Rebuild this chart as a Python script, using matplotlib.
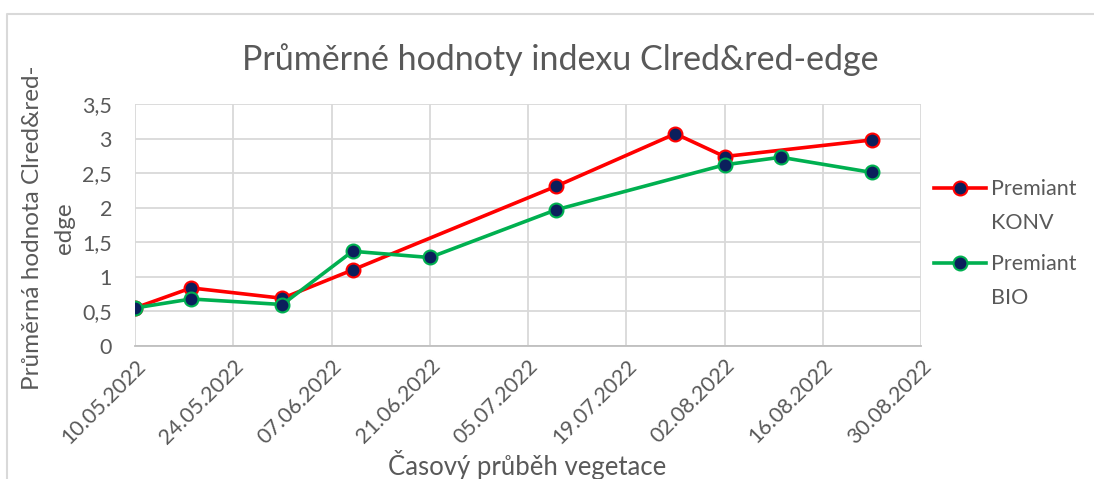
import numpy as np
import pandas as pd
import matplotlib
matplotlib.use("Agg")
from matplotlib import pyplot as plt
from matplotlib.lines import Line2D

# data
konv_dates = ["10.05.2022", "18.05.2022", "31.05.2022", "10.06.2022",
              "09.07.2022", "26.07.2022", "02.08.2022", "23.08.2022"]
konv_values = [0.55, 0.84, 0.69, 1.10, 2.31, 3.07, 2.74, 2.98]

bio_dates = ["10.05.2022", "18.05.2022", "31.05.2022", "10.06.2022", "21.06.2022",
             "09.07.2022", "02.08.2022", "10.08.2022", "23.08.2022"]
bio_values = [0.55, 0.68, 0.60, 1.37, 1.28, 1.97, 2.62, 2.73, 2.51]

series_names = [("Premiant", "KONV"), ("Premiant", "BIO")]

tick_dates = ["10.05.2022", "24.05.2022", "07.06.2022", "21.06.2022", "05.07.2022",
              "19.07.2022", "02.08.2022", "16.08.2022", "30.08.2022"]
y_ticks = [0, 0.5, 1, 1.5, 2, 2.5, 3, 3.5]
y_labels = ["0", "0,5", "1", "1,5", "2", "2,5", "3", "3,5"]

plt.rcParams['font.family'] = ['Lato', 'DejaVu Sans']
txt = '#595959'
grid = '#D9D9D9'
navy = '#0B1F5C'

kd = pd.to_datetime(konv_dates, format="%d.%m.%Y")
bd = pd.to_datetime(bio_dates, format="%d.%m.%Y")
td = pd.to_datetime(tick_dates, format="%d.%m.%Y")

fig = plt.figure(figsize=(10.94, 4.79), dpi=100)
ax = fig.add_axes([135/1094, 1-346/479, (921-135)/1094, (346-104)/479])

ax.plot(kd, konv_values, color='#FF0000', lw=2.6, marker='o', ms=10,
        mfc=navy, mec='#FF0000', mew=1.5, label=series_names[0][0], zorder=3)
ax.plot(bd, bio_values, color='#00B050', lw=2.6, marker='o', ms=10,
        mfc=navy, mec='#00B050', mew=1.5, label=series_names[1][0], zorder=3)

ax.set_xlim(td[0], td[-1])
ax.set_ylim(0, 3.5)
ax.set_xticks(td)
ax.set_xticklabels(tick_dates, rotation=45, ha='right', rotation_mode='anchor')
ax.set_yticks(y_ticks)
ax.set_yticklabels(y_labels)
ax.tick_params(axis='both', colors=txt, labelsize=15.5, length=0)
ax.tick_params(axis='x', pad=7)
ax.tick_params(axis='y', pad=16.5)
ax.grid(True, color=grid, lw=1.3)
for s in ['top', 'right', 'left']:
    ax.spines[s].set_visible(False)
ax.spines['bottom'].set_color('#BFBFBF')
ax.spines['bottom'].set_linewidth(1.3)
ax.set_axisbelow(True)

fig.text(0.512, 1-60/479, "Průměrné hodnoty indexu Clred&red-edge", ha='center', va='center',
         fontsize=24.5, color=txt)
fig.text(33/1094, 1-228/479, "Průměrná hodnota Clred&red-", rotation=90, ha='center', va='center',
         fontsize=17.5, color=txt)
fig.text(65/1094, 1-228/479, "edge", rotation=90, ha='center', va='center',
         fontsize=17.5, color=txt)
fig.text(527/1094, 1-465/479, "Časový průběh vegetace", ha='center', va='center',
         fontsize=18.5, color=txt)

leg = ax.legend(loc='upper left', bbox_to_anchor=(915/1094, 1-160/479), bbox_transform=fig.transFigure,
                frameon=False, fontsize=15.5, handlelength=2.4, labelspacing=2.55,
                handletextpad=0.25, labelcolor=txt)

# second line of each legend label, placed under the first one
fig.canvas.draw()
for t, (_, second) in zip(leg.get_texts(), series_names):
    bb = t.get_window_extent()
    fig.text(bb.x0 / fig.bbox.width, (bb.y0 - 34) / fig.bbox.height, second,
             ha='left', va='bottom', fontsize=15.5, color=txt)

# chart frame
fig.add_artist(Line2D([7/1094, 7/1094, 1.0], [0.0, 1-14/479, 1-14/479],
                      transform=fig.transFigure, color=grid, lw=1.5))

fig.savefig("out.png", dpi=100)
